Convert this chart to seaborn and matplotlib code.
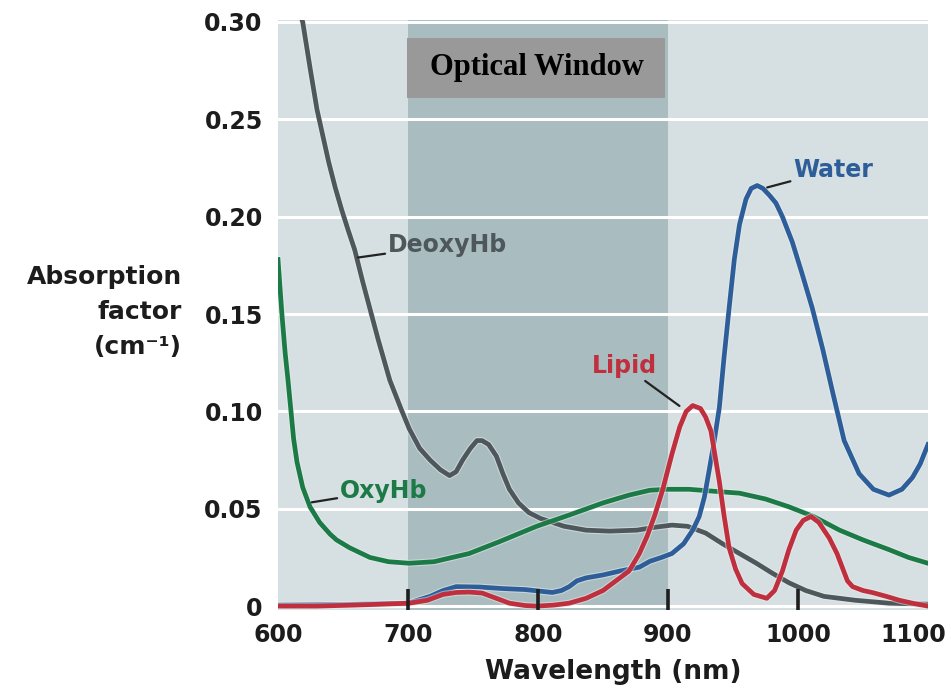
import matplotlib
matplotlib.use("Agg")
import matplotlib.pyplot as plt
import matplotlib.patheffects as pe
import matplotlib.transforms as mtransforms
from matplotlib.patches import Rectangle
import seaborn as sns

# ---------------- data ----------------
deoxy_wl = [616, 619, 625, 630, 635, 639, 644, 649, 654, 659, 665, 671, 677, 686,
            695, 701, 709, 717, 725, 732, 737, 742, 748, 753, 757, 762, 768, 773,
            778, 785, 793, 802, 811, 820, 837, 855, 876, 890, 903, 915, 929, 942,
            955, 968, 980, 993, 1006, 1020, 1044, 1070, 1100]
deoxy_val = [0.306, 0.300, 0.275, 0.255, 0.240, 0.228, 0.215, 0.2035, 0.193, 0.183,
             0.167, 0.152, 0.137, 0.116, 0.1007, 0.091, 0.081, 0.075, 0.070, 0.067,
             0.069, 0.075, 0.081, 0.085, 0.085, 0.083, 0.077, 0.068, 0.060, 0.053,
             0.048, 0.045, 0.043, 0.041, 0.039, 0.0385, 0.039, 0.0405, 0.0416,
             0.041, 0.0375, 0.032, 0.027, 0.022, 0.017, 0.012, 0.008, 0.005, 0.003,
             0.0015, 0.001]

oxy_wl = [600, 603, 605.5, 607.7, 610, 612, 614.6, 619, 624.6, 632, 640, 645, 655,
          670.7, 685, 701, 720, 747, 770, 799, 825, 850, 870, 886, 900, 916, 935,
          955, 975, 993, 1012, 1032, 1050, 1070, 1085, 1100]
oxy_val = [0.178, 0.150, 0.130, 0.116, 0.100, 0.086, 0.074, 0.061, 0.051, 0.043,
           0.037, 0.034, 0.030, 0.025, 0.0228, 0.022, 0.0228, 0.027, 0.033, 0.041,
           0.047, 0.053, 0.057, 0.0595, 0.060, 0.060, 0.059, 0.058, 0.055, 0.051,
           0.046, 0.039, 0.034, 0.029, 0.025, 0.022]

water_wl = [600, 650, 700, 717, 727, 737, 755, 773, 790, 811, 818, 824, 830, 837,
            850, 863, 878, 886, 895, 903, 912, 919, 924, 928, 932, 935.6, 939.5,
            943, 947, 951, 955, 960, 964, 968.6, 973, 978, 983, 988, 995.6, 1003,
            1011, 1019, 1026.6, 1035.5, 1047, 1058, 1070, 1080, 1088, 1094, 1100]
water_val = [0.0005, 0.0008, 0.0015, 0.005, 0.008, 0.010, 0.0098, 0.009, 0.0085,
             0.007, 0.008, 0.010, 0.013, 0.0145, 0.016, 0.018, 0.020, 0.023, 0.025,
             0.027, 0.032, 0.039, 0.046, 0.056, 0.071, 0.085, 0.102, 0.127, 0.153,
             0.178, 0.196, 0.209, 0.2145, 0.216, 0.2145, 0.211, 0.207, 0.200, 0.187,
             0.171, 0.153, 0.132, 0.110, 0.085, 0.068, 0.060, 0.057, 0.060, 0.066,
             0.073, 0.083]

lipid_wl = [600, 630, 658, 680, 701, 715, 727, 737, 747, 757, 768, 778, 790, 799,
            812, 824, 837, 850, 860, 870, 878, 884, 890, 896, 903, 909, 914, 919,
            925, 929, 933, 936, 939.5, 943, 947, 952, 957, 966, 976, 982, 988, 993,
            998.6, 1004, 1010, 1016, 1024, 1030, 1034, 1038, 1042, 1050, 1057,
            1068, 1078, 1090, 1100]
lipid_val = [0.0, 0.0, 0.0005, 0.001, 0.0015, 0.003, 0.006, 0.007, 0.0072, 0.0067,
             0.004, 0.0015, 0.0003, 0.0, 0.0005, 0.0015, 0.004, 0.008, 0.013, 0.018,
             0.027, 0.036, 0.047, 0.060, 0.078, 0.092, 0.100, 0.103, 0.1015, 0.097,
             0.090, 0.078, 0.064, 0.047, 0.030, 0.019, 0.0116, 0.006, 0.004, 0.008,
             0.018, 0.029, 0.039, 0.044, 0.046, 0.043, 0.035, 0.027, 0.020, 0.013,
             0.010, 0.008, 0.007, 0.005, 0.003, 0.0012, 0.0]

x_ticks = [600, 700, 800, 900, 1000, 1100]
x_tick_labels = ["600", "700", "800", "900", "1000", "1100"]
y_ticks = [0, 0.05, 0.10, 0.15, 0.20, 0.25, 0.30]
y_tick_labels = ["0", "0.05", "0.10", "0.15", "0.20", "0.25", "0.30"]
window = (700, 900)
window_title = "Optical Window"
y_label_lines = ["Absorption", "factor", "(cm⁻¹)"]
x_label = "Wavelength (nm)"

# ---------------- styling ----------------
plt.rcParams["font.family"] = ["DejaVu Sans"]
C_DEOXY = "#4e575b"
C_OXY = "#1b7a46"
C_WATER = "#2d5e99"
C_LIPID = "#bf2f3d"
TXT = "#1c1c1c"

fig = plt.figure(figsize=(9.51, 6.89), dpi=100)
W, H = 951, 689
ax_l, ax_r, ax_t, ax_b = 278, 928, 20, 610
ax = fig.add_axes([ax_l / W, 1 - ax_b / H, (ax_r - ax_l) / W, (ax_b - ax_t) / H])

ax.set_facecolor("#d6dfe1")
ax.axvspan(window[0], window[1], color="#a9bcbf", zorder=0.2, lw=0)
ax.set_axisbelow(True)
ax.yaxis.grid(True, color="white", linewidth=2.2)
ax.xaxis.grid(False)

halo = [pe.Stroke(linewidth=5.0, foreground="#e9eff0", alpha=0.5), pe.Normal()]
series = [(deoxy_wl, deoxy_val, C_DEOXY), (oxy_wl, oxy_val, C_OXY),
          (water_wl, water_val, C_WATER), (lipid_wl, lipid_val, C_LIPID)]
for i, (xs, ys, c) in enumerate(series):
    sns.lineplot(x=xs, y=ys, color=c, linewidth=3.4, estimator=None, sort=True,
                 ax=ax, zorder=3 + i, path_effects=halo)

ax.set_xlim(600, 1100)
ax.set_ylim(-0.002, 0.301)
for s in ax.spines.values():
    s.set_visible(False)

ax.set_xticks(x_ticks, x_tick_labels)
ax.set_yticks(y_ticks, y_tick_labels)
ax.tick_params(axis="x", direction="in", length=15, width=2.6, color="#1e1e1e",
               pad=9, labelsize=17, labelcolor=TXT)
ax.tick_params(axis="y", length=0, pad=11, labelsize=17, labelcolor=TXT)
for lab in ax.get_xticklabels() + ax.get_yticklabels():
    lab.set_fontweight("bold")
ticks = ax.xaxis.get_major_ticks()
ticks[0].tick1line.set_visible(False)
ticks[-1].tick1line.set_visible(False)
ax.xaxis.set_zorder(10)
# last label sits slightly left of its tick, as in the reference
last = ax.get_xticklabels()[-1]
last.set_transform(last.get_transform() +
                   mtransforms.ScaledTranslation(-15 / 100, 0, fig.dpi_scale_trans))

ax.set_xlabel(x_label, fontsize=19, fontweight="bold", color=TXT)
ax.xaxis.set_label_coords((613 - ax_l) / (ax_r - ax_l), (ax_b - 672) / (ax_b - ax_t))
ax.xaxis.label.set_va("center")
ax.set_ylabel("")

for k, line in enumerate(y_label_lines):
    fig.text(182 / W, 1 - (277 + 35 * k) / H, line, ha="right", va="center",
             fontsize=18, fontweight="bold", color=TXT)

# optical window title box
box = Rectangle((window[0] - 0.8, 0.261), (window[1] - window[0]) - 1.5, 0.031,
                facecolor="#999999", edgecolor="none", zorder=8)
ax.add_patch(box)
ax.text((window[0] + window[1]) / 2 - 1, 0.2765, window_title, ha="center",
        va="center", fontsize=22, fontweight="bold", color="black",
        family=["Liberation Serif", "DejaVu Serif"], zorder=9)

# curve labels with leader lines
lead = dict(arrowstyle="-", color="#222222", lw=1.6, shrinkA=0, shrinkB=0)
ax.annotate("DeoxyHb", xy=(661.4, 0.179), xytext=(684.5, 0.1855), ha="left",
            va="center", fontsize=17, fontweight="bold", color=C_DEOXY,
            arrowprops=lead, zorder=9)
ax.annotate("OxyHb", xy=(626, 0.0533), xytext=(647.6, 0.0593), ha="left",
            va="center", fontsize=17, fontweight="bold", color=C_OXY,
            arrowprops=lead, zorder=9)
ax.annotate("Water", xy=(976.3, 0.215), xytext=(996.3, 0.224), ha="left",
            va="center", fontsize=17, fontweight="bold", color=C_WATER,
            arrowprops=lead, zorder=9)
ax.annotate("Lipid", xy=(908.8, 0.1028), xytext=(891.9, 0.1232), ha="right",
            va="center", fontsize=17, fontweight="bold", color=C_LIPID,
            arrowprops=lead, zorder=9)

fig.savefig("out.png", dpi=100, facecolor="white")
